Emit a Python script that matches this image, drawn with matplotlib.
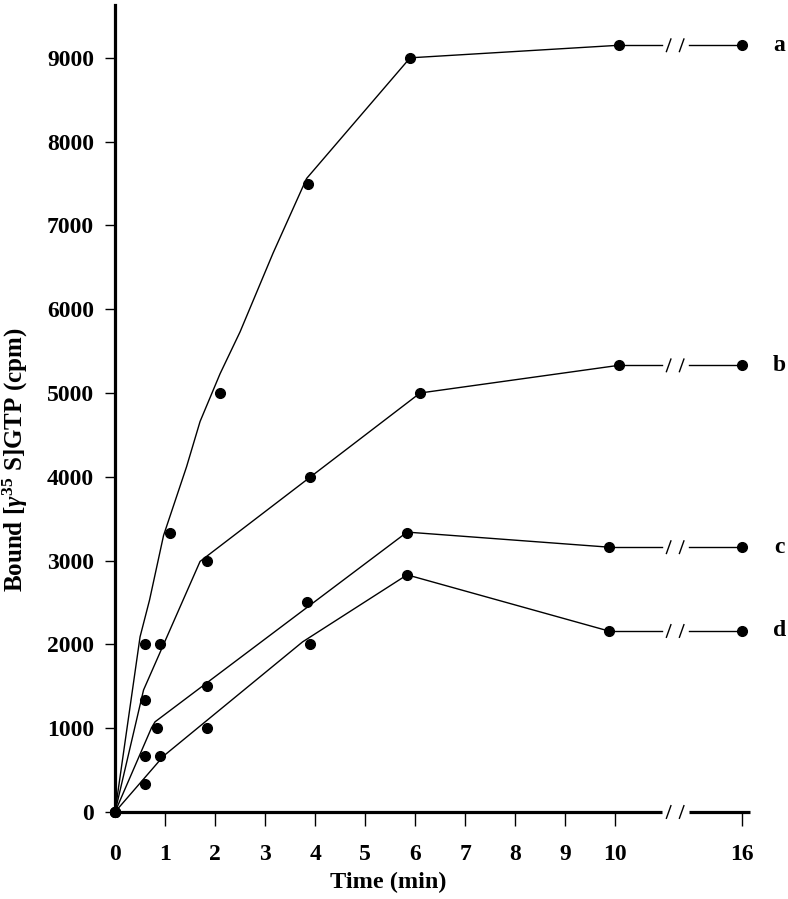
import numpy as np
import matplotlib
matplotlib.use("Agg")
import matplotlib.pyplot as plt

plt.rcParams['font.family'] = ['Liberation Serif', 'DejaVu Serif']
plt.rcParams['font.weight'] = 'bold'
plt.rcParams['mathtext.fontset'] = 'custom'
plt.rcParams['mathtext.rm'] = 'Liberation Serif:bold'
plt.rcParams['mathtext.it'] = 'Liberation Serif:italic:bold'

# measured points (time in min, bound cpm)
time_a = [0, 0.6, 1.1, 2.1, 3.85, 5.9, 10.08, 16]
cpm_a = [0, 2000, 3333, 5000, 7500, 9000, 9150, 9150]
time_b = [0, 0.6, 0.9, 1.83, 3.9, 6.1, 10.07, 16]
cpm_b = [0, 1333, 2000, 3000, 4000, 5000, 5330, 5330]
time_c = [0, 0.6, 0.83, 1.83, 3.83, 5.84, 9.88, 16]
cpm_c = [0, 667, 1000, 1500, 2500, 3333, 3160, 3160]
time_d = [0, 0.6, 0.9, 1.83, 3.9, 5.84, 9.87, 16]
cpm_d = [0, 333, 667, 1000, 2000, 2830, 2160, 2160]

# hand-drawn curves (up to the last point before the break)
curve_a_t = [0, 0.5, 0.69, 0.97, 1.43, 1.7, 2.1, 2.5, 3.16, 3.83, 5.9, 10.08]
curve_a_y = [0, 2090, 2530, 3300, 4120, 4660, 5230, 5730, 6670, 7560, 9000, 9150]
curve_b_t = [0, 0.57, 1.7, 1.83, 6.1, 10.07]
curve_b_y = [0, 1456, 2990, 3050, 5000, 5330]
curve_c_t = [0, 0.73, 0.8, 5.84, 9.88]
curve_c_y = [0, 1006, 1076, 3340, 3160]
curve_d_t = [0, 0.97, 3.75, 5.84, 9.87]
curve_d_y = [0, 668, 2030, 2830, 2160]

labels = ['a', 'b', 'c', 'd']
x_ticks = [0, 1, 2, 3, 4, 5, 6, 7, 8, 9, 10, 16]
y_ticks = [0, 1000, 2000, 3000, 4000, 5000, 6000, 7000, 8000, 9000]

# broken axis: 0-10 linear, 16 placed after the break
POS16 = 12.53
GAP_LO, GAP_HI = 10.93, 11.48
SLASHES = [11.07, 11.33]
XMAX = 12.7


def pos(t):
    t = np.asarray(t, dtype=float)
    return np.where(t > 10.5, POS16, t)


def slashes(ax, y, lw=1.0):
    for s in SLASHES:
        ax.plot([s - 0.045, s + 0.045], [y - 75, y + 75], color='black',
                lw=lw, clip_on=False)


fig = plt.figure(figsize=(7.88, 8.99), dpi=100)
ax = fig.add_axes([0.146, 0.0968, 0.806, 0.8976])
ax.set_xlim(0, XMAX)
ax.set_ylim(0, 9630)

series = [(time_a, cpm_a, curve_a_t, curve_a_y),
          (time_b, cpm_b, curve_b_t, curve_b_y),
          (time_c, cpm_c, curve_c_t, curve_c_y),
          (time_d, cpm_d, curve_d_t, curve_d_y)]

for (t, y, ct, cy), lab in zip(series, labels):
    ax.plot(pos(ct), cy, color='black', lw=1.0)
    last = cy[-1]
    ax.plot([ct[-1], GAP_LO], [last, last], color='black', lw=1.0)
    ax.plot([GAP_HI, POS16], [y[-1], y[-1]], color='black', lw=1.0)
    slashes(ax, last)
    ax.plot(pos(t), y, 'o', color='black', ms=7, clip_on=False, zorder=5)
    ax.text(POS16 + 0.75, y[-1], lab, fontsize=17, fontweight='bold',
            ha='center', va='center')

# x axis line drawn by hand so the break shows
for sp in ['top', 'right', 'bottom']:
    ax.spines[sp].set_visible(False)
ax.spines['left'].set_linewidth(2.3)
ax.plot([0, GAP_LO], [0, 0], color='black', lw=2.3, clip_on=False,
        solid_capstyle='butt')
ax.plot([GAP_HI, XMAX], [0, 0], color='black', lw=2.3, clip_on=False,
        solid_capstyle='butt')
slashes(ax, 0)

ax.set_xticks(pos(x_ticks))
ax.set_xticklabels([str(v) for v in x_ticks])
ax.set_yticks(y_ticks)
ax.set_yticklabels([str(v) for v in y_ticks])
ax.tick_params(axis='x', direction='out', length=10, width=1.0, pad=13,
               labelsize=17)
ax.tick_params(axis='y', direction='out', length=7, width=1.0, pad=8,
               labelsize=17)
ax.xaxis.get_major_ticks()[0].tick1line.set_visible(False)

ax.set_xlabel('Time (min)', fontsize=17.5, fontweight='bold')
ax.xaxis.set_label_coords(0.43, -0.074)
ax.set_ylabel(r'Bound [$\gamma^{35}$ S]GTP (cpm)', fontsize=18,
              fontweight='bold')
ax.yaxis.set_label_coords(-0.134, 0.436)

fig.savefig('out.png', dpi=100)
